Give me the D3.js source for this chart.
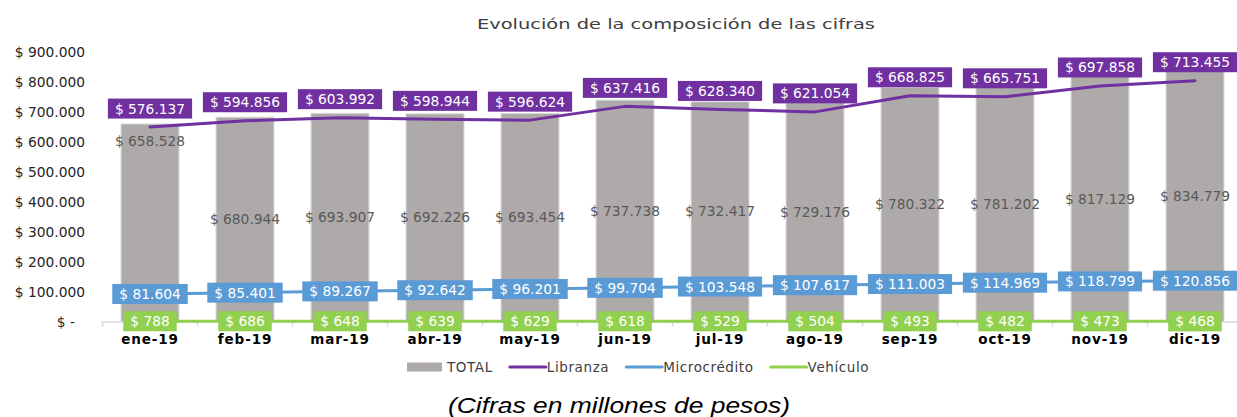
<!DOCTYPE html>
<html><head><meta charset="utf-8">
<script src="https://cdn.jsdelivr.net/npm/d3@7"></script>
<style>
body{margin:0;background:#fff;}
svg{display:block;}
</style></head>
<body>
<svg id="chart" width="1237" height="417"></svg>
<script>
const categories = ["ene-19","feb-19","mar-19","abr-19","may-19","jun-19","jul-19","ago-19","sep-19","oct-19","nov-19","dic-19"];
const total = [658528,680944,693907,692226,693454,737738,732417,729176,780322,781202,817129,834779];
const libranza = [576137,594856,603992,598944,596624,637416,628340,621054,668825,665751,697858,713455];
const microcredito = [81604,85401,89267,92642,96201,99704,103548,107617,111003,114969,118799,120856];
const vehiculo = [788,686,648,639,629,618,529,504,493,482,473,468];
const yTicks = [0,100000,200000,300000,400000,500000,600000,700000,800000,900000];
const seriesNames = ["TOTAL","Libranza","Microcrédito","Vehículo"];

const FONT = "'DejaVu Sans', sans-serif";
const colors = {total:"#AEAAAA", lib:"#7030A0", mic:"#5B9BD5", veh:"#92D050"};
const loc = d3.formatLocale({decimal:",", thousands:".", grouping:[3], currency:["$ ",""]});
const fmt = v => v === 0 ? "$ -" : loc.format("$,.0f")(v);

const svg = d3.select("#chart");
const x = d3.scaleBand().domain(categories).range([102.5, 1242.5]).paddingInner(0.39).paddingOuter(0.195);
const y = d3.scaleLinear().domain([0, 900000]).range([321.5, 51.5]);
const y2 = d3.scaleLinear().domain([0, 800000]).range([321.5, 51.5]);
const cx = c => x(c) + x.bandwidth()/2;

// title
svg.append("text").attr("x", 676).attr("y", 29).attr("text-anchor","middle")
  .attr("font-family", FONT).attr("font-size", 14.5).attr("fill","#404040")
  .attr("textLength", 398).attr("lengthAdjust","spacingAndGlyphs")
  .text("Evolución de la composición de las cifras");

// y axis labels
const yAxis = d3.axisLeft(y).tickValues(yTicks).tickSize(0).tickPadding(0).tickFormat(fmt);
const ya = svg.append("g").attr("transform","translate(85,0)").call(yAxis);
ya.select(".domain").remove();
ya.selectAll("text").attr("font-family", FONT).attr("font-size", 13.8).attr("fill","#262626")
  .attr("dy","0.35em")
  .attr("dx", d => d === 0 ? -10 : 0);

// bars
svg.append("g").selectAll("rect").data(categories).join("rect")
  .attr("x", c => x(c)).attr("width", x.bandwidth())
  .attr("y", (c,i) => y(total[i])).attr("height", (c,i) => y(0) - y(total[i]))
  .attr("fill", colors.total).attr("stroke","#D9D9D9").attr("stroke-width",1);

// x axis
const xAxis = d3.axisBottom(x).tickSize(0).tickPadding(10);
const xa = svg.append("g").attr("transform", `translate(0,${y(0)})`).call(xAxis);
xa.select(".domain").attr("stroke","#D9D9D9").attr("stroke-width",1.5);
xa.selectAll("text").attr("font-family", FONT).attr("font-size", 13.5).attr("font-weight","bold")
  .attr("fill","#000").attr("letter-spacing",0.9).attr("dy","0.9em");
const bounds = categories.map(c => x(c) - x.step()*x.paddingInner()/2).concat([x.range()[1]]);
svg.append("g").selectAll("line").data(bounds).join("line")
  .attr("x1", d=>d).attr("x2", d=>d).attr("y1", y(0)).attr("y2", y(0)+5)
  .attr("stroke","#D9D9D9").attr("stroke-width",1.5);

// total labels (inside center; first one near top)
svg.append("g").selectAll("text").data(categories).join("text")
  .attr("x", c => cx(c))
  .attr("y", (c,i) => i === 0 ? y(total[i]) + 17 : y(total[i]/2))
  .attr("dy","0.35em").attr("text-anchor","middle")
  .attr("font-family", FONT).attr("font-size", 13.8).attr("fill","#595959")
  .text((c,i) => fmt(total[i]));

// lines
function drawLine(vals, color) {
  const line = d3.line().x((d,i) => cx(categories[i])).y(d => y2(d));
  svg.append("path").datum(vals).attr("d", line).attr("fill","none")
    .attr("stroke", color).attr("stroke-width", 3).attr("stroke-linejoin","round").attr("stroke-linecap","round");
}
drawLine(vehiculo, colors.veh);
drawLine(microcredito, colors.mic);
drawLine(libranza, colors.lib);

// boxed labels
function boxLabels(vals, color, offset) {
  const g = svg.append("g");
  vals.forEach((v,i) => {
    const gg = g.append("g").attr("transform", `translate(${cx(categories[i])},${y2(v)+offset})`);
    const r = gg.append("rect").attr("fill", color);
    const t = gg.append("text").attr("text-anchor","middle").attr("dy","0.36em")
      .attr("font-family", FONT).attr("font-size", 13.8).attr("fill","#fff").text(fmt(v));
    const w = t.node().getComputedTextLength() + 14;
    r.attr("x", -w/2).attr("y", -10).attr("width", w).attr("height", 20);
  });
}
boxLabels(vehiculo, colors.veh, 0);
boxLabels(microcredito, colors.mic, 0);
boxLabels(libranza, colors.lib, -18.5);

// legend
const lg = svg.append("g").attr("transform","translate(407,367)");
let lx = 0;
seriesNames.forEach((name, i) => {
  const col = [colors.total, colors.lib, colors.mic, colors.veh][i];
  if (i === 0) {
    lg.append("rect").attr("x", lx).attr("y", -4.5).attr("width", 35).attr("height", 9).attr("fill", col);
  } else {
    lg.append("line").attr("x1", lx).attr("x2", lx+36).attr("y1",0).attr("y2",0)
      .attr("stroke", col).attr("stroke-width",3).attr("stroke-linecap","round");
  }
  const off = i === 0 ? 40 : 37;
  const t = lg.append("text").attr("x", lx + off).attr("dy","0.35em")
    .attr("font-family", FONT).attr("font-size", 13.5).attr("letter-spacing", 0.6)
    .attr("fill","#404040").text(name);
  lx += off + t.node().getComputedTextLength() + 17;
});

// caption
svg.append("text").attr("x", 619).attr("y", 413).attr("text-anchor","middle")
  .attr("font-family","'Liberation Sans', Arial, sans-serif").attr("font-style","italic")
  .attr("font-size", 21.5).attr("fill","#000")
  .attr("textLength", 342).attr("lengthAdjust","spacingAndGlyphs")
  .text("(Cifras en millones de pesos)");
</script>
</body></html>
